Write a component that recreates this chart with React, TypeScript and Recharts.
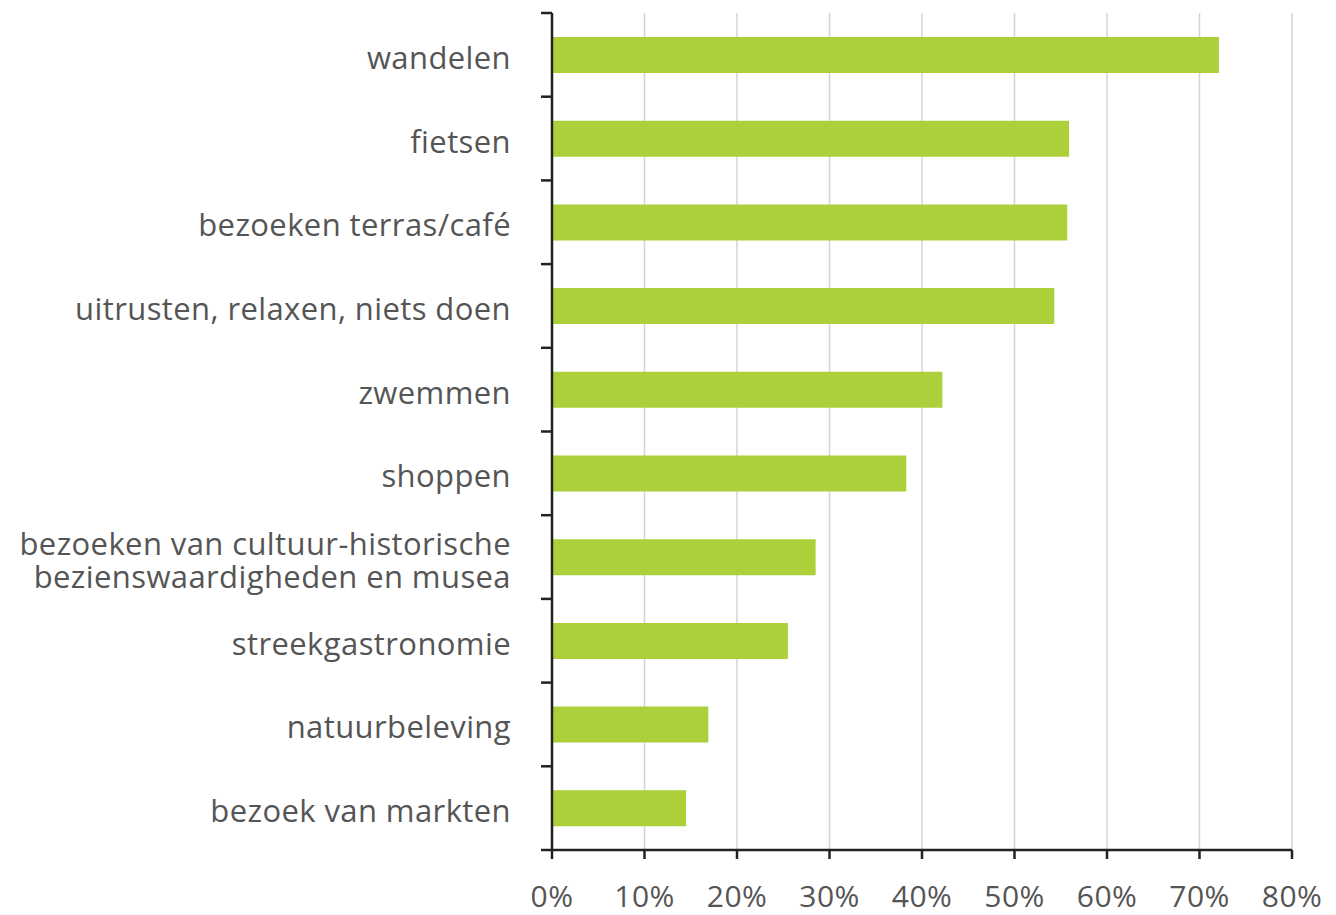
import React from 'react';
import { BarChart, Bar, XAxis, YAxis, CartesianGrid } from 'recharts';

// Data
const categories = [
  'wandelen',
  'fietsen',
  'bezoeken terras/café',
  'uitrusten, relaxen, niets doen',
  'zwemmen',
  'shoppen',
  'bezoeken van cultuur-historische\nbezienswaardigheden en musea',
  'streekgastronomie',
  'natuurbeleving',
  'bezoek van markten',
];
const shares = [72.1, 55.9, 55.7, 54.3, 42.2, 38.3, 28.5, 25.5, 16.9, 14.5];
const xTicks = [0, 10, 20, 30, 40, 50, 60, 70, 80];

const data = categories.map((name, i) => ({ name, value: shares[i] }));

// the helper y axis spans the row indexes 0..n-1, so band edges sit at k*(n-1)/n
const n = categories.length;
const bandEdges = Array.from({ length: n + 1 }, (_, k) => (k * (n - 1)) / n);

const FONT = '"Open Sans", sans-serif';
const TEXT = '#555555';

function CategoryTick(props: any) {
  const { x, y, payload } = props;
  const lines = String(payload.value).split('\n');
  const lh = 33;
  const start = -((lines.length - 1) * lh) / 2;
  return (
    <text
      x={x}
      y={y + 2}
      textAnchor="end"
      fill={TEXT}
      fontFamily={FONT}
      fontSize={31}
      letterSpacing={0.4}
      dominantBaseline="central"
    >
      {lines.map((l, i) => (
        <tspan key={i} x={x} dy={i === 0 ? start : lh}>
          {l}
        </tspan>
      ))}
    </text>
  );
}

export default function App() {
  return (
    <div style={{ position: 'absolute', left: 0, top: 0, width: 1336, height: 915, background: '#fff' }}>
      <style>{'body { margin: 0; }'}</style>
      <BarChart
        width={1336}
        height={915}
        data={data}
        layout="vertical"
        margin={{ top: 13, right: 44, left: 550, bottom: 0 }}
        barCategoryGap={0}
      >
        <CartesianGrid
          horizontal={false}
          stroke="#d4d4d4"
          strokeWidth={1.5}
          yAxisId="cat"
        />
        <XAxis
          type="number"
          domain={[0, 80]}
          ticks={xTicks}
          interval={0}
          height={65}
          tickFormatter={(v: number) => `${v}%`}
          tickSize={9}
          tickMargin={27}
          axisLine={{ stroke: '#222', strokeWidth: 2.5 }}
          tickLine={{ stroke: '#222', strokeWidth: 2.5 }}
          tick={{ fill: TEXT, fontFamily: FONT, fontSize: 30, letterSpacing: 0.4 }}
        />
        <YAxis
          yAxisId="cat"
          type="category"
          dataKey="name"
          width={1}
          interval={0}
          axisLine={false}
          tickLine={false}
          tickSize={0}
          tickMargin={40}
          tick={<CategoryTick />}
        />
        <YAxis
          yAxisId="band"
          type="number"
          domain={[0, n - 1]}
          ticks={bandEdges}
          interval={0}
          width={1}
          tickFormatter={() => ''}
          tickSize={11}
          axisLine={{ stroke: '#222', strokeWidth: 2.5 }}
          tickLine={{ stroke: '#222', strokeWidth: 2.5 }}
        />
        <Bar
          yAxisId="cat"
          dataKey="value"
          fill="#acd03a"
          barSize={36}
          isAnimationActive={false}
        />
      </BarChart>
    </div>
  );
}
